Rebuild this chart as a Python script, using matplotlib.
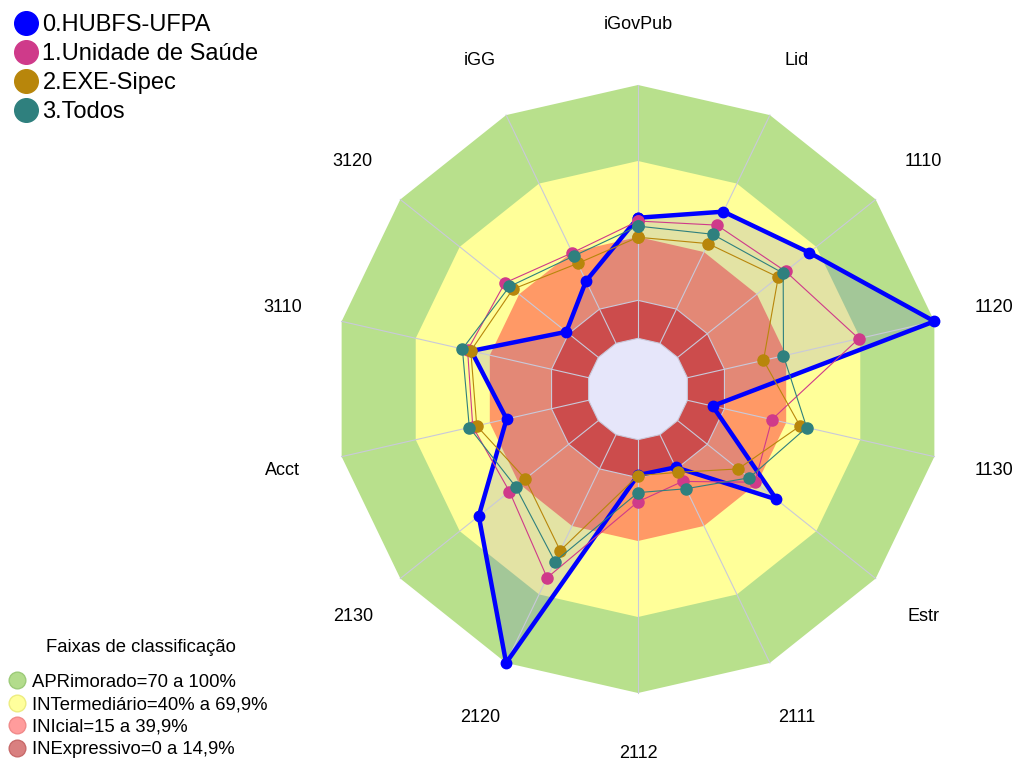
import numpy as np
import matplotlib
matplotlib.use("Agg")
import matplotlib.pyplot as plt
from matplotlib.lines import Line2D

plt.rcParams['font.family'] = ['Liberation Sans', 'DejaVu Sans']

axes_labels = ["iGovPub", "Lid", "1110", "1120", "1130", "Estr", "2111",
               "2112", "2120", "2130", "Acct", "3110", "3120", "iGG"]

series_names = ["0.HUBFS-UFPA", "1.Unidade de Saúde", "2.EXE-Sipec", "3.Todos"]
hubfs = [47.6, 57.7, 66.4, 100.0, 10.2, 49.9, 14.3, 14.0, 100.0, 60.4, 33.2, 47.5, 16.2, 27.3]
unidade = [46.3, 51.8, 54.5, 69.4, 34.2, 39.0, 20.5, 24.5, 62.7, 44.9, 46.9, 49.0, 47.2, 39.7]
sipec = [39.9, 43.7, 50.8, 30.8, 45.6, 30.6, 16.5, 14.2, 50.8, 36.9, 45.3, 47.7, 43.2, 35.0]
todos = [44.3, 47.8, 53.3, 38.9, 48.3, 36.2, 23.7, 20.9, 55.6, 41.8, 48.3, 51.1, 44.9, 38.3]
series_colors = ["#0000FF", "#CF3A8A", "#B8860B", "#2F807E"]

# classification bands (upper limit of each band, %)
band_title = "Faixas de classificação"
band_names = ["APRimorado=70 a 100%", "INTermediário=40% a 69,9%",
              "INIcial=15 a 39,9%", "INExpressivo=0 a 14,9%"]
band_top = [100, 70, 40, 15]
band_colors = ["#B8E08C", "#FFFF99", "#FF9966", "#CC4C4C"]
legend_band_face = ["#B3DC8C", "#FFFF9C", "#FF9C9C", "#D98080"]
legend_band_edge = ["#9CCB78", "#EDED80", "#F08A8A", "#C86A6A"]

n = len(axes_labels)
theta = np.arange(n) * 2 * np.pi / n
theta_c = np.append(theta, theta[0])


def closed(vals):
    return np.append(vals, vals[0])


W, H = 1016, 762
fig = plt.figure(figsize=(W / 100, H / 100), dpi=100)
cx, cy, R = 638, 389, 304
ax = fig.add_axes([(cx - R) / W, (H - cy - R) / H, 2 * R / W, 2 * R / H],
                  projection="polar")
ax.set_theta_zero_location("N")
ax.set_theta_direction(-1)
ax.set_ylim(0, 100)
ax.set_rorigin(-20)
ax.axis("off")

grid_col = "#C9C9DA"

# bands
for top, col in zip(band_top[:3], band_colors[:3]):
    ax.fill(theta_c, np.full(n + 1, top), color=col, lw=0, zorder=1, clip_on=False)

# fill of the main series
ax.fill(theta_c, closed(hubfs), color="#0000FF", alpha=0.11, lw=0, zorder=2, clip_on=False)

ax.fill(theta_c, np.full(n + 1, band_top[3]), facecolor=band_colors[3],
        edgecolor=grid_col, lw=0.8, zorder=3, clip_on=False)
ax.fill(theta_c, np.zeros(n + 1), facecolor="#E6E6FA", edgecolor=grid_col,
        lw=0.8, zorder=3, clip_on=False)

# spokes
for t in theta:
    ax.plot([t, t], [0, 100], color=grid_col, lw=0.8, zorder=4, clip_on=False)

# series
data = [hubfs, unidade, sipec, todos]
for i, (vals, col) in enumerate(zip(data, series_colors)):
    if i == 0:
        ax.plot(theta_c, closed(vals), color=col, lw=3.2, marker="o", ms=7.5,
                zorder=5, clip_on=False)
    else:
        ax.plot(theta_c, closed(vals), color=col, lw=0.8, marker="o", ms=8,
                zorder=5 + i, clip_on=False)

# axis labels
for t, lab in zip(theta, axes_labels):
    ax.text(t, 124, lab, ha="center", va="center", fontsize=13, clip_on=False)

# series legend
h1 = [Line2D([], [], ls="none", marker="o", ms=17, color=c) for c in series_colors]
fig.legend(h1, series_names, loc="upper left", bbox_to_anchor=(0.0, 1.0),
           frameon=False, fontsize=17, handletextpad=0.2, labelspacing=0.3,
           borderaxespad=0.4, handlelength=1.0, borderpad=0.2)

# band legend
h2 = [Line2D([], [], ls="none", marker="o", ms=12, markerfacecolor=f,
             markeredgecolor=e, markeredgewidth=1) for f, e in zip(legend_band_face, legend_band_edge)]
fig.legend(h2, band_names, loc="lower left",
           bbox_to_anchor=(4 / W, 0.0), frameon=False, fontsize=13.3,
           handletextpad=0.3, labelspacing=0.3,
           borderaxespad=0.0, handlelength=1.0, borderpad=0.2)
fig.text(141 / W, 1 - 648 / H, band_title, ha="center", va="center", fontsize=13.3)

fig.savefig("out.png", dpi=100)
